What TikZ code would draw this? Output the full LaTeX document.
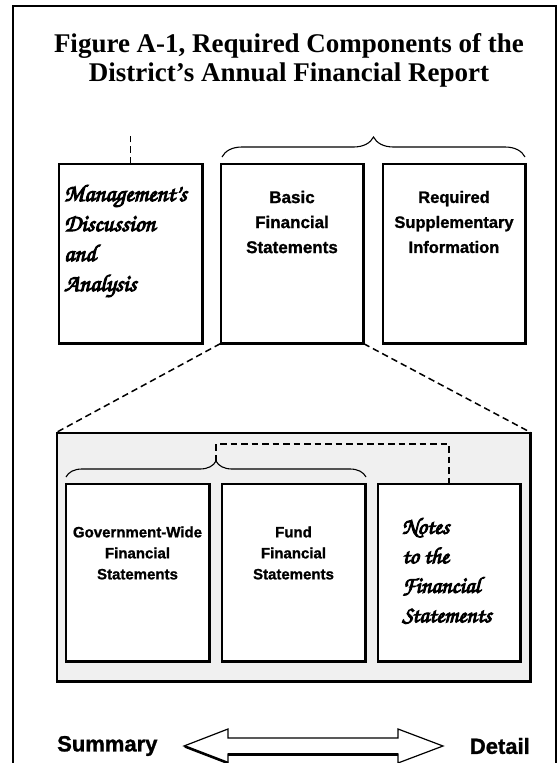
\documentclass[tikz,border=0pt]{standalone}
\usepackage{fontspec}
\setmainfont{Liberation Serif}
\newfontfamily\sansf{Liberation Sans}[BoldFeatures={FakeBold=1.2}]
\newfontfamily\scriptf{texgyrechorus-mediumitalic.otf}[FakeBold=4.2]
\usetikzlibrary{decorations.pathreplacing}
\begin{document}
\begin{tikzpicture}[x=1pt,y=-1pt,
  box/.style={draw=black, line width=1.3pt, fill=white, rectangle, inner sep=0pt},
  ibox/.style={box},
  dsh/.style={line width=1.5pt, dash pattern=on 6.5pt off 4pt},
  brc/.style={line width=1.1pt, decorate},
  sanstxt/.style={font=\sansf\bfseries, align=center},
  scripttxt/.style={font=\scriptf, align=left, anchor=west, inner sep=0pt},
  lbl/.style={font=\sansf\bfseries\fontsize{22}{24}\selectfont, inner sep=0pt}
]
\useasboundingbox (0,0) rectangle (559,763);
\fill[white] (0,0) rectangle (559,763);
% frame
\draw[line width=1.8pt] (13,763) -- (13,6) -- (556,6) -- (556,763);
% title
\node[font=\fontsize{27}{29}\selectfont\bfseries, align=center] (title) at (289,60)
  {Figure A-1, Required Components of the\\District’s Annual Financial Report};
% top boxes
\node[box, minimum width=143pt, minimum height=179pt] (mda) at (130.5,253.5) {};
\node[box, minimum width=142pt, minimum height=179pt] (bfs) at (292,253.5) {};
\node[box, minimum width=142pt, minimum height=179pt] (rsi) at (454,253.5) {};
\foreach \n in {mda,bfs,rsi}{
  \draw[line width=1.8pt] (\n.north east) -- (\n.south east) -- (\n.south west);
}
\coordinate (mdtop) at (130.5,135);
\draw[dsh] (mda.north) -- (mdtop);
\coordinate (bl) at (222,157);
\coordinate (br) at (525,157);
\draw[brc, decoration={brace, amplitude=20pt}] (bl) -- (br);
\node[scripttxt, font=\scriptf\fontsize{24}{30}\selectfont] (mdatxt) at (64,241)
  {Management’s\\Discussion\\and\\Analysis};
\node[sanstxt, font=\sansf\bfseries\fontsize{17}{25}\selectfont] (bfstxt) at (292,222)
  {Basic\\Financial\\Statements};
\node[sanstxt, font=\sansf\bfseries\fontsize{16.5}{25}\selectfont] (rsitxt) at (454,222)
  {Required\\Supplementary\\Information};
% gray box
\node[draw=black, line width=1.2pt, fill=black!6, minimum width=473pt, minimum height=248pt, inner sep=0pt] (gray) at (293.5,557) {};
\draw[line width=2.6pt] (gray.north east) -- (gray.south east) -- (gray.south west);
\draw[dsh] (bfs.south west) -- (gray.north west);
\draw[dsh] (bfs.south east) -- (gray.north east);
% inner boxes
\node[ibox, minimum width=143pt, minimum height=177pt] (gw) at (137.5,572.5) {};
\node[ibox, minimum width=143pt, minimum height=177pt] (fund) at (293.5,572.5) {};
\node[ibox, minimum width=142pt, minimum height=177pt] (notes) at (449,572.5) {};
\foreach \n in {gw,fund,notes}{
  \draw[line width=2pt] (\n.north east) -- (\n.south east) -- (\n.south west);
}
\coordinate (il) at (66,477);
\coordinate (ir) at (366,477);
\coordinate (itip) at (216,461);
\draw[brc, decoration={brace, amplitude=16pt}] (il) -- (ir);
\draw[dsh] (itip) -- (216,444) -| (notes.north);
\node[sanstxt, font=\sansf\bfseries\fontsize{15}{21}\selectfont] (gwtxt) at (137.5,553)
  {Government-Wide\\Financial\\Statements};
\node[sanstxt, font=\sansf\bfseries\fontsize{15}{21}\selectfont] (fundtxt) at (293.5,553)
  {Fund\\Financial\\Statements};
\node[scripttxt, font=\scriptf\fontsize{23}{29.5}\selectfont] (notestxt) at (402,571)
  {Notes\\to the\\Financial\\Statements};
% bottom
\node[lbl, anchor=west] (summary) at (57,746) {Summary};
\node[lbl, anchor=east] (detail) at (530,746) {Detail};
\draw[line width=1.2pt, fill=white, line join=miter]
  (184,746) -- (228,729) -- (228,738) -- (398,738) -- (398,729) -- (443,746)
  -- (398,763) -- (398,754) -- (228,754) -- (228,763) -- cycle;
\draw[line width=2.6pt] (185,746.5) -- (228,763);
\draw[line width=2.6pt] (228,754.5) -- (398,754.5);
\end{tikzpicture}
\end{document}
